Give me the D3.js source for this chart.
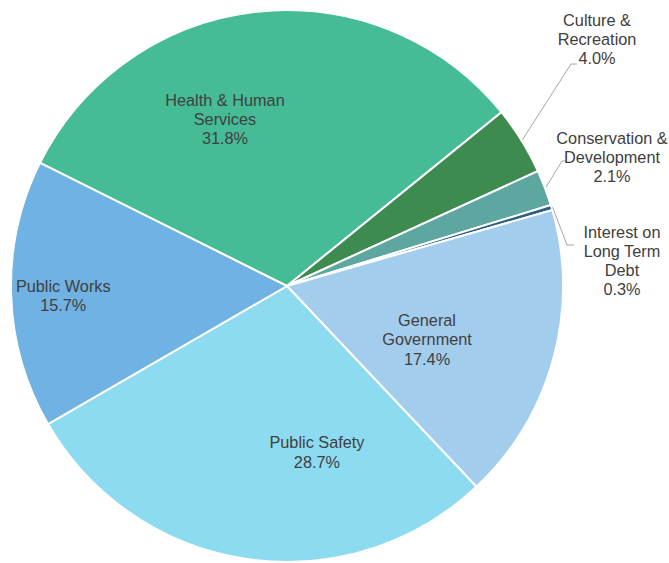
<!DOCTYPE html>
<html>
<head>
<meta charset="utf-8">
<script src="https://cdn.jsdelivr.net/npm/d3@7"></script>
<style>
  body { margin: 0; background: #fff; }
  svg text { font-family: "Liberation Sans", Arial, sans-serif; font-size: 16.3px; fill: #404040; }
</style>
</head>
<body>
<svg width="669" height="563"></svg>
<script>
// categories in drawing order (clockwise, starting at Health & Human Services)
var categories = ["Health & Human Services", "Culture & Recreation", "Conservation & Development",
  "Interest on Long Term Debt", "General Government", "Public Safety", "Public Works"]
var percents = [31.8, 4.0, 2.1, 0.3, 17.4, 28.7, 15.7]
var labelLines = [["Health & Human", "Services"], ["Culture &", "Recreation"], ["Conservation &", "Development"],
  ["Interest on", "Long Term", "Debt"], ["General", "Government"], ["Public Safety"], ["Public Works"]]
var colors = ["#45bb96", "#3e8b4f", "#5ea7a1", "#2e5f83", "#a3cdec", "#8ddbf0", "#6fb2e3"]

var svg = d3.select("svg"),
  cx = 287, cy = 286, r = 276

var g = svg.append("g").attr("transform", "translate(" + cx + "," + cy + ")")

var pie = d3.pie().sort(null)
  .startAngle(-63.5 * Math.PI / 180)
  .endAngle((360 - 63.5) * Math.PI / 180)
  .value(function(d) { return d })

var arc = d3.arc().innerRadius(0).outerRadius(r)
var arcs = pie(percents)

g.selectAll("path.slice")
  .data(arcs)
  .enter().append("path")
  .attr("class", "slice")
  .attr("d", arc)
  .attr("fill", function(d, i) { return colors[i] })
  .attr("stroke", "#fff")
  .attr("stroke-width", 2)

// label placement: inside labels by [angle deg, radius], outside ones by absolute anchor + leader elbow
var inside = { 0: [-20.4, 178], 4: [111, 150], 5: [169.8, 169], 6: [267.4, 224] }
var outside = {
  1: { x: 597, y: 20, elbow: [[571, 64], [577, 64]] },
  2: { x: 612, y: 138, elbow: [[562, 161], [567, 161]] },
  3: { x: 622, y: 232, elbow: [[567, 245], [574, 245]] }
}
var lineH = 19.2

function polar(a, rad) {
  var t = a * Math.PI / 180
  return [Math.sin(t) * rad, -Math.cos(t) * rad]
}

arcs.forEach(function(d, i) {
  var lines = labelLines[i].concat([percents[i].toFixed(1) + "%"])
  var x, y0
  if (inside[i]) {
    var p = polar(inside[i][0], inside[i][1])
    x = p[0]; y0 = p[1] - (lines.length - 1) * lineH / 2
  } else {
    var o = outside[i]
    x = o.x - cx; y0 = o.y - cy
    var mid = (d.startAngle + d.endAngle) / 2
    var s = [Math.sin(mid) * (r + 1), -Math.cos(mid) * (r + 1)]
    var pts = [s].concat(o.elbow.map(function(e) { return [e[0] - cx, e[1] - cy] }))
    g.append("path")
      .attr("d", d3.line()(pts))
      .attr("fill", "none")
      .attr("stroke", "#a6a6a6")
      .attr("stroke-width", 1)
  }
  var t = g.append("text").attr("text-anchor", "middle")
  lines.forEach(function(l, k) {
    t.append("tspan").attr("x", x).attr("y", y0 + k * lineH).attr("dy", "0.35em").text(l)
  })
})
</script>
</body>
</html>
